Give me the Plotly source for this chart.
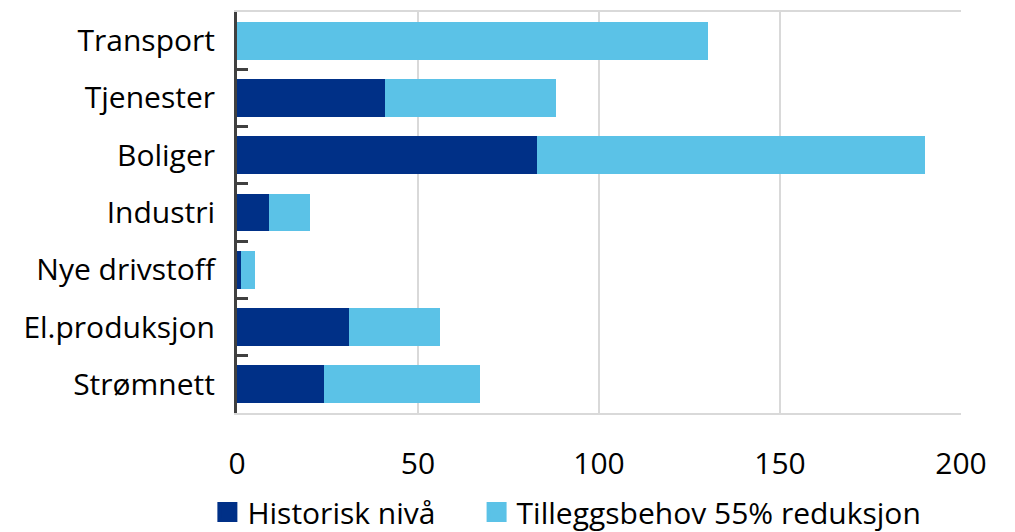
import plotly.graph_objects as go

categories = ["Transport", "Tjenester", "Boliger", "Industri", "Nye drivstoff", "El.produksjon", "Strømnett"]
historisk = [0, 41, 83, 8.8, 1.1, 31, 24]
tillegg = [130, 47, 107, 11.4, 3.9, 25, 43]
series_names = ["Historisk nivå", "Tilleggsbehov 55% reduksjon"]
x_ticks = [0, 50, 100, 150, 200]

dark = "#003087"
light = "#5BC2E7"
font_family = "Open Sans"
legend_pad = "\u00a0" * 4 + "\u2009"

fig = go.Figure()
for vals, name, col in [(historisk, series_names[0], dark), (tillegg, series_names[1], light)]:
    fig.add_trace(go.Bar(y=categories, x=vals, orientation="h", name=name, showlegend=False,
                         marker=dict(color=col, line=dict(width=0)), width=0.66))
# legend entries with larger square swatches
for i, (name, col) in enumerate([(series_names[0], dark), (series_names[1], light)]):
    fig.add_trace(go.Scatter(x=[None], y=[None], mode="markers",
                             name=name + (legend_pad if i == 0 else ""),
                             marker=dict(symbol="square", size=16, color=col,
                                         line=dict(color=col, width=4))))

fig.update_layout(
    barmode="stack",
    width=1007, height=524,
    margin=dict(l=229, r=54, t=4, b=119),
    paper_bgcolor="white", plot_bgcolor="white",
    font=dict(family=font_family, size=30, color="black"),
    legend=dict(orientation="h", xref="container", x=0.198, xanchor="left",
                yref="container", y=0.088, yanchor="top",
                font=dict(size=30), traceorder="normal",
                bgcolor="rgba(0,0,0,0)"),
    xaxis=dict(range=[0, 200], tickvals=x_ticks, showgrid=True, gridcolor="#D9D9D9", gridwidth=2,
               showline=True, linecolor="#D9D9D9", linewidth=2, mirror=True,
               zeroline=False, ticks="", ticklabelstandoff=23, automargin=False),
    yaxis=dict(categoryorder="array", categoryarray=categories[::-1], autorange=False,
               range=[-0.5, 6.5], showline=True, linecolor="#404040", linewidth=3,
               ticks="inside", tickson="boundaries", ticklen=11, tickwidth=3, tickcolor="#404040",
               showgrid=False, ticklabelstandoff=13, automargin=False),
)

fig.write_html("out.html")
